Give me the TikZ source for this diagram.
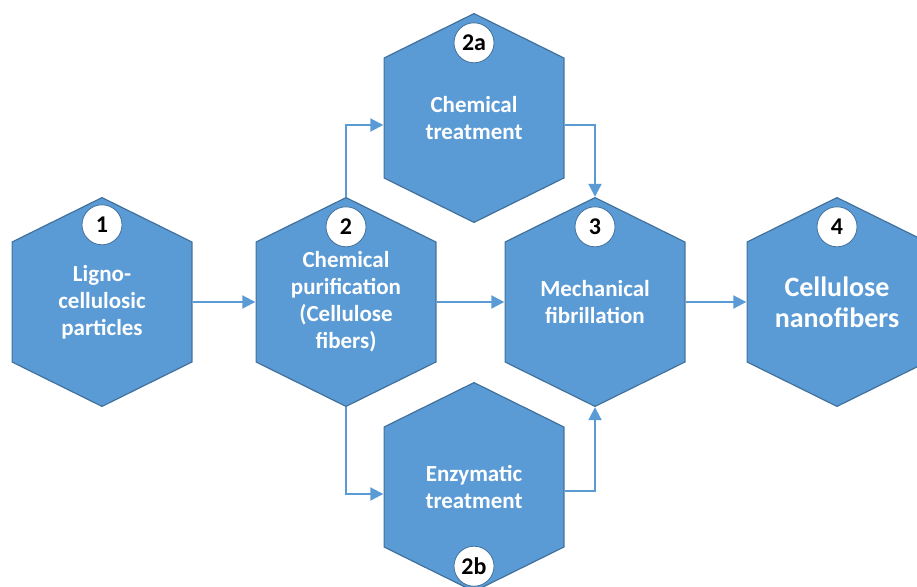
\documentclass[tikz,border=0pt]{standalone}
\usepackage{fontspec}
\setmainfont{Carlito}
\usetikzlibrary{arrows.meta}

\definecolor{hexblue}{HTML}{5B9BD5}
\definecolor{hexedge}{HTML}{41719C}

\tikzset{
  hexbox/.style={minimum width=181pt, minimum height=210pt, inner sep=0pt,
    text=white, align=center, font=\fontsize{23}{27}\selectfont\bfseries,
    path picture={
      \path[draw=hexedge, fill=hexblue, line width=1.2pt]
        ([yshift=-.6pt]path picture bounding box.north)
        -- ([xshift=-.6pt,yshift=-45pt]path picture bounding box.north east)
        -- ([xshift=-.6pt,yshift=45pt]path picture bounding box.south east)
        -- ([yshift=.6pt]path picture bounding box.south)
        -- ([xshift=.6pt,yshift=45pt]path picture bounding box.south west)
        -- ([xshift=.6pt,yshift=-45pt]path picture bounding box.north west)
        -- cycle;}},
  numcircle/.style={circle, draw=hexedge, fill=white, line width=0.8pt,
    minimum size=40pt, inner sep=0pt, font=\fontsize{24}{24}\selectfont\bfseries},
  flow/.style={hexblue, line width=2pt, -{Triangle[length=13pt, width=13pt]}}
}

\begin{document}
\begin{tikzpicture}[x=1pt, y=-1pt]

\useasboundingbox (0,0) rectangle (917,586);

% the steps
\node[hexbox] (h1)  at (102,302) {Ligno-\\cellulosic\\particles};
\node[hexbox] (h2)  at (346,302) {Chemical\\purification\\(Cellulose\\fibers)};
\node[hexbox] (h2a) at (474,118) {Chemical\\treatment};
\node[hexbox] (h2b) at (474,487) {Enzymatic\\treatment};
\node[hexbox] (h3)  at (595,302) {Mechanical\\fibrillation};
\node[hexbox, font=\fontsize{28}{31}\selectfont\bfseries] (h4) at (837,302) {Cellulose\\nanofibers};

% step numbers
\node[numcircle] (n1)  at ([yshift=-28pt]h1.north)  {1};
\node[numcircle] (n2)  at ([yshift=-30pt]h2.north)  {2};
\node[numcircle] (n2a) at ([yshift=-30pt]h2a.north) {2a};
\node[numcircle] (n2b) at ([yshift=26pt]h2b.south)  {2b};
\node[numcircle] (n3)  at ([yshift=-30pt]h3.north)  {3};
\node[numcircle] (n4)  at ([yshift=-30pt]h4.north)  {4};

% flow
\draw[flow] (h1) -- (h2);
\draw[flow] (h2) -- (h3);
\draw[flow] (h3) -- (h4);
\draw[flow] (h2.north) |- ([yshift=-7pt]h2a.west);
\draw[flow] ([yshift=-7pt]h2a.east) -| (h3.north);
\draw[flow] (h2.south) |- ([yshift=-7pt]h2b.west);
\draw[flow] ([yshift=-4pt]h2b.east) -| (h3.south);

\end{tikzpicture}
\end{document}
